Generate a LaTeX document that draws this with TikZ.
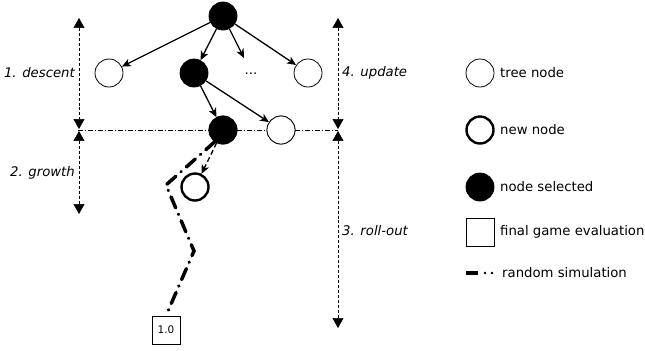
\documentclass[tikz,border=0pt]{standalone}
\usepackage{fontspec}
\setmainfont{DejaVu Sans}
\usetikzlibrary{arrows.meta}
\begin{document}
\begin{tikzpicture}[x=1bp,y=-1bp,
  font=\fontsize{13.3}{15}\selectfont,
  tn/.style={circle,draw,line width=0.8pt,minimum size=28bp,inner sep=0pt},
  sel/.style={circle,draw,fill=black,line width=0.8pt,minimum size=28bp,inner sep=0pt},
  nn/.style={circle,draw,line width=2.4pt,minimum size=27bp,inner sep=0pt},
  sq/.style={draw,line width=0.7pt,minimum size=28bp,inner sep=0pt},
  edge/.style={line width=1.3pt,-{Stealth[length=9pt,width=8pt,inset=2.5pt]}},
  phase/.style={line width=0.7pt,dash pattern=on 3pt off 2pt,{Triangle[length=10pt,width=11pt]}-{Triangle[length=10pt,width=11pt]}},
  sim/.style={line width=3.5pt,dash pattern=on 12pt off 7pt on 0.1pt off 7pt,line cap=round},
  lab/.style={font=\fontsize{13.3}{15}\selectfont\itshape},
  leg/.style={anchor=west,inner sep=0pt}]
\useasboundingbox (0,0) rectangle (645,350);
% tree
\node[sel] (root) at (223,16) {};
\node[tn] (left) at (109,73) {};
\node[sel] (b2) at (194,73) {};
\node (dots) at (251,74) {...};
\coordinate (dtop) at (244,58);
\node[tn] (right) at (308,73) {};
\node[sel] (b3) at (223,130) {};
\node[tn] (w2) at (281,130) {};
\node[nn] (new) at (195,187) {};
\node[sq,font=\fontsize{10.5}{12}\selectfont] (fin) at (166,330) {1.0};
% separator
\coordinate (hl) at (78,130);
\coordinate (hr) at (338,130);
\draw[line width=0.6pt,dash pattern=on 5pt off 2pt on 1pt off 2pt] (hl) -- (b3) -- (w2) -- (hr);
\node[sel] at (b3) {};
\node[tn,fill=white] at (w2) {};
% edges
\draw[edge] (root) -- (left);
\draw[edge] (root) -- (b2);
\draw[edge] (root) -- (dtop);
\draw[edge] (root) -- (right);
\draw[edge] (b2) -- (b3);
\draw[edge] (b2) -- (w2);
\draw[edge,dash pattern=on 5pt off 3pt] (b3) -- (new);
\coordinate (s1) at (166,185);
\coordinate (s2) at (194,251);
\draw[sim] (b3.235) -- (s1) -- (s2) -- (fin.north);
% phase arrows
\coordinate (l1) at (79,18);
\coordinate (l2) at (79,129);
\coordinate (l3) at (79,131);
\coordinate (l4) at (79,214);
\coordinate (r1) at (338,18);
\coordinate (r2) at (338,129);
\coordinate (r3) at (338,131);
\coordinate (r4) at (338,328);
\draw[phase] (l1) -- (l2);
\draw[phase] (l3) -- (l4);
\draw[phase] (r1) -- (r2);
\draw[phase] (r3) -- (r4);
\node[lab,anchor=east,inner sep=0pt] (ld) at (75,73) {1. descent};
\node[lab,anchor=east,inner sep=0pt] (lg) at (75,173) {2. growth};
\node[lab,anchor=west,inner sep=0pt] (lu) at (342,73) {4. update};
\node[lab,anchor=west,inner sep=0pt] (lr) at (342,231) {3. roll-out};
% legend
\node[tn] (k1) at (480,73) {};
\node[leg] (t1) at (500,73) {tree node};
\node[nn] (k2) at (480,130) {};
\node[leg] (t2) at (500,130) {new node};
\node[sel] (k3) at (480,187) {};
\node[leg] (t3) at (500,187) {node selected};
\node[sq] (k4) at (480,232) {};
\node[leg] (t4) at (500,232) {final game evaluation};
\coordinate (k5a) at (466,273);
\coordinate (k5b) at (478,273);
\draw[line width=3.5pt] (k5a) -- (k5b);
\fill (485,273) circle (1.4bp) (492,273) circle (1.4bp);
\node[leg] (t5) at (502,273) {random simulation};
\end{tikzpicture}
\end{document}
